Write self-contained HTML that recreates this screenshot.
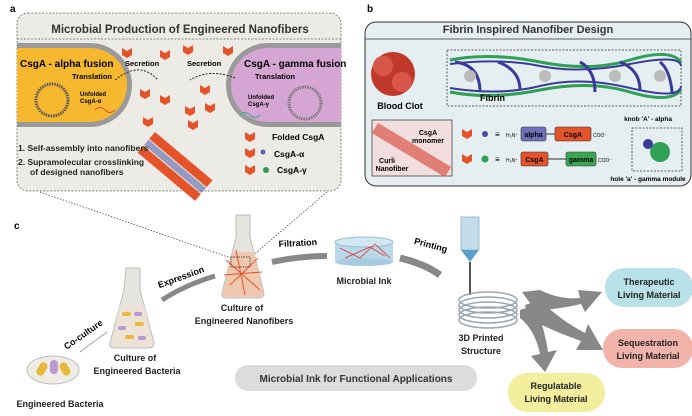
<!DOCTYPE html>
<html><head><meta charset="utf-8"><style>
html,body{margin:0;padding:0;background:#fff;width:692px;height:416px;overflow:hidden}
svg{display:block;font-family:"Liberation Sans",Arial,sans-serif}
.b{font-weight:bold}
</style></head><body>
<svg width="692" height="416" viewBox="0 0 692 416" xmlns="http://www.w3.org/2000/svg">
<defs>
<g id="chev"><path d="M0,0 L5,3 L10,0 L10,7 L5,10 L0,7 Z" fill="#e5532b"/></g>
</defs>
<!-- Panel a -->
<text x="10" y="12" class="b" font-size="10">a</text>
<rect x="17" y="13" width="324" height="178" rx="11" fill="#edebe6" stroke="#666" stroke-dasharray="2,1.5" stroke-width="0.8"/>
<text x="180" y="33" text-anchor="middle" class="b" font-size="11.5" fill="#333">Microbial Production of Engineered Nanofibers</text>
<line x1="17" y1="39" x2="341" y2="39" stroke="#666" stroke-dasharray="2,1.5" stroke-width="0.8"/>
<path d="M17,43 H90 A42,42 0 0 1 90,127 H17 Z" fill="#9a9a9a"/>
<path d="M17,48 H90 A37,37 0 0 1 90,122 H17 Z" fill="#f5b82e"/>
<path d="M341,43 H268 A42,42 0 0 0 268,127 H341 Z" fill="#9a9a9a"/>
<path d="M341,48 H268 A37,37 0 0 0 268,122 H341 Z" fill="#d5a6d3"/>
<text x="20" y="67" class="b" font-size="10">CsgA - alpha fusion</text>
<text x="244" y="67" class="b" font-size="10">CsgA - gamma fusion</text>
<circle cx="52" cy="100" r="16" fill="none" stroke="#555" stroke-width="3" stroke-dasharray="1.5,1"/>
<circle cx="305" cy="103" r="16" fill="none" stroke="#777" stroke-width="3" stroke-dasharray="1.5,1"/>
<text x="72" y="79" class="b" font-size="7.5">Translation</text>
<text x="80" y="96" class="b" font-size="6">Unfolded</text><text x="80" y="103" class="b" font-size="6">CsgA-α</text>
<text x="255" y="79" class="b" font-size="7.5">Translation</text>
<text x="248" y="99" class="b" font-size="6">Unfolded</text><text x="248" y="106" class="b" font-size="6">CsgA-γ</text>
<text x="125" y="66" class="b" font-size="7.5">Secretion</text>
<text x="187" y="66" class="b" font-size="7.5">Secretion</text>
<path d="M115,80 Q140,60 158,80" fill="none" stroke="#222" stroke-dasharray="2,1.5"/>
<path d="M235,78 Q210,68 190,80" fill="none" stroke="#222" stroke-dasharray="2,1.5"/>
<path d="M95,110 q5,-5 10,0 t10,0" stroke="#e5532b" fill="none"/>
<path d="M240,115 q5,-5 10,0 t10,0" stroke="#3a9" fill="none"/>
<g>
<use href="#chev" x="122" y="48"/><use href="#chev" x="160" y="50"/><use href="#chev" x="183" y="45"/><use href="#chev" x="223" y="46"/>
<use href="#chev" x="140" y="89"/><use href="#chev" x="160" y="95"/><use href="#chev" x="200" y="85"/><use href="#chev" x="185" y="106"/>
<use href="#chev" x="143" y="117"/><use href="#chev" x="205" y="103"/><use href="#chev" x="188" y="120"/>
</g>
<g transform="translate(155,132) rotate(40)">
<rect x="0" y="0" width="75" height="9" fill="#e5532b"/>
<rect x="0" y="18" width="75" height="9" fill="#e5532b"/>
<rect x="0" y="10" width="75" height="7" fill="#5a64a8" opacity="0.6"/>
</g>
<text x="18" y="151" class="b" font-size="8.5" fill="#222">1. Self-assembly into nanofibers</text>
<text x="18" y="165" class="b" font-size="8.5" fill="#222">2. Supramolecular crosslinking</text>
<text x="30" y="175" class="b" font-size="8.5" fill="#222">of designed nanofibers</text>
<use href="#chev" x="245" y="132"/><text x="272" y="140" class="b" font-size="8.5">Folded CsgA</text>
<use href="#chev" x="245" y="148"/><circle cx="263" cy="152" r="2.5" fill="#5a64a8"/><text x="274" y="157" class="b" font-size="8.5">CsgA-α</text>
<use href="#chev" x="245" y="165"/><circle cx="266" cy="170" r="3" fill="#2f9a55"/><text x="277" y="173" class="b" font-size="8.5">CsgA-γ</text>

<!-- Panel b -->
<text x="367" y="12" class="b" font-size="10">b</text>
<rect x="365" y="22" width="326" height="164" rx="11" fill="#e5eef0" stroke="#333" stroke-width="1"/>
<text x="528" y="33" text-anchor="middle" class="b" font-size="11" fill="#333">Fibrin Inspired Nanofiber Design</text>
<line x1="365" y1="39" x2="691" y2="39" stroke="#333" stroke-width="0.8"/>
<circle cx="393" cy="74" r="22" fill="#c0392b"/><circle cx="383" cy="66" r="10" fill="#d9574a"/><circle cx="402" cy="82" r="10" fill="#d9574a"/>
<text x="400" y="109" text-anchor="middle" class="b" font-size="9">Blood Clot</text>
<rect x="447" y="50" width="234" height="56" fill="none" stroke="#333" stroke-dasharray="2,1.5" stroke-width="0.8"/>
<path d="M450,60 Q490,52 540,62 T630,60 T681,62" stroke="#2fa055" stroke-width="3" fill="none"/>
<path d="M450,92 Q490,100 540,90 T630,92 T681,90" stroke="#2fa055" stroke-width="3" fill="none"/>
<path d="M450,64 Q500,58 540,66 T630,64 T681,66 M450,88 Q500,96 540,86 T630,88 T681,86" stroke="#3a3a9a" stroke-width="2" fill="none"/>
<path d="M455,62 Q480,65 480,92 M498,62 Q520,70 520,90 M580,62 Q595,70 595,92 M620,62 Q640,70 640,90 M660,62 Q670,70 672,92" stroke="#3a3a9a" stroke-width="3" fill="none"/>
<g fill="#bbb"><circle cx="470" cy="76" r="6"/><circle cx="545" cy="76" r="6"/><circle cx="615" cy="76" r="6"/><circle cx="660" cy="76" r="6"/></g>
<text x="480" y="101" class="b" font-size="9">Fibrin</text>
<rect x="372" y="120" width="80" height="56" fill="#f2dede" stroke="#666"/>
<path d="M375,128 L448,172" stroke="#d9574a" stroke-width="12" opacity="0.7"/>
<text x="428" y="135" text-anchor="middle" class="b" font-size="7">CsgA</text><text x="428" y="143" text-anchor="middle" class="b" font-size="7">monomer</text>
<text x="387" y="163" text-anchor="middle" class="b" font-size="7">Curli</text><text x="392" y="171" text-anchor="middle" class="b" font-size="7">Nanofiber</text>
<use href="#chev" x="462" y="129"/><circle cx="485" cy="134" r="3" fill="#4a4a9a"/>
<text x="495" y="137" font-size="8">≡</text><text x="506" y="137" font-size="5">H₃N⁺</text>
<rect x="521" y="127" width="25" height="14" rx="2" fill="#7070b8" stroke="#333" stroke-width="0.6"/><text x="533.5" y="137" text-anchor="middle" class="b" font-size="7">alpha</text>
<line x1="546" y1="134" x2="555" y2="134" stroke="#333"/>
<rect x="555" y="127" width="36" height="14" rx="2" fill="#e5532b" stroke="#333" stroke-width="0.6"/><text x="573" y="137" text-anchor="middle" class="b" font-size="7">CsgA</text>
<text x="593" y="137" font-size="5">COO⁻</text>
<use href="#chev" x="462" y="154"/><circle cx="485" cy="159" r="3.5" fill="#2fa055"/>
<text x="495" y="162" font-size="8">≡</text><text x="506" y="162" font-size="5">H₃N⁺</text>
<rect x="521" y="152" width="27" height="14" rx="2" fill="#e5532b" stroke="#333" stroke-width="0.6"/><text x="534.5" y="162" text-anchor="middle" class="b" font-size="7">CsgA</text>
<line x1="548" y1="159" x2="566" y2="159" stroke="#333"/>
<rect x="566" y="152" width="30" height="14" rx="2" fill="#3aa655" stroke="#333" stroke-width="0.6"/><text x="581" y="162" text-anchor="middle" class="b" font-size="7">gamma</text>
<text x="598" y="162" font-size="5">COO⁻</text>
<text x="648" y="121" text-anchor="middle" class="b" font-size="6.5">knob 'A' - alpha</text>
<rect x="632" y="128" width="50" height="43" fill="none" stroke="#333" stroke-dasharray="2,1.5" stroke-width="0.8"/>
<circle cx="660" cy="152" r="10" fill="#2fa055"/><circle cx="648" cy="144" r="5" fill="#3a3a9a"/>
<text x="648" y="181" text-anchor="middle" class="b" font-size="6.5">hole 'a' - gamma module</text>

<!-- connectors -->
<line x1="40" y1="192" x2="231" y2="258" stroke="#333" stroke-dasharray="1.5,1.5" stroke-width="0.7"/>
<line x1="327" y1="192" x2="250" y2="258" stroke="#333" stroke-dasharray="1.5,1.5" stroke-width="0.7"/>

<!-- Panel c -->
<text x="14" y="229" class="b" font-size="10">c</text>
<ellipse cx="53" cy="370" rx="26" ry="14" fill="#eeece4" stroke="#bbb"/>
<rect x="38" y="362" width="8" height="14" rx="4" fill="#e7b83a" transform="rotate(30 42 369)"/><rect x="50" y="360" width="8" height="14" rx="4" fill="#b99ad0"/><rect x="61" y="362" width="8" height="14" rx="4" fill="#e7b83a" transform="rotate(-30 65 369)"/>
<text x="60" y="407" text-anchor="middle" class="b" font-size="9" fill="#222">Engineered Bacteria</text>
<line x1="80" y1="352" x2="107" y2="332" stroke="#999" stroke-width="0.8"/>
<text x="85" y="337" text-anchor="middle" class="b" font-size="9" transform="rotate(-35 85 337)">Co-culture</text>
<path d="M126,268 H140 V290 L154,343 Q154,348 148,348 H115 Q109,348 110,343 L124,290 Z" fill="#e6e4de" stroke="#bbb"/>
<path d="M120,305 H144 L153,343 Q153,347 148,347 H115 Q110,347 111,343 Z" fill="#ece3d6"/>
<g fill="#e7b83a"><rect x="122" y="312" width="9" height="4" rx="2"/><rect x="135" y="322" width="9" height="4" rx="2"/><rect x="125" y="335" width="9" height="4" rx="2"/></g>
<g fill="#b99ad0"><rect x="134" y="312" width="8" height="4" rx="2"/><rect x="118" y="326" width="8" height="4" rx="2"/><rect x="138" y="336" width="8" height="4" rx="2"/></g>
<text x="135" y="361" text-anchor="middle" class="b" font-size="9" fill="#222">Culture of</text>
<text x="137" y="374" text-anchor="middle" class="b" font-size="9" fill="#222">Engineered Bacteria</text>
<path d="M162,300 Q185,285 215,276" stroke="#888" stroke-width="5" fill="none"/>
<text x="182" y="280" text-anchor="middle" class="b" font-size="9" transform="rotate(-20 182 280)">Expression</text>
<path d="M236,215 H250 V237 L264,293 Q264,298 258,298 H227 Q221,298 222,293 L236,237 Z" fill="#e6e4de" stroke="#bbb"/>
<path d="M232,252 H254 L263,293 Q263,297 258,297 H227 Q222,297 223,293 Z" fill="#f0c8b0"/>
<path d="M226,260 L260,290 M230,285 L258,258 M236,250 L245,295 M224,275 L262,272" stroke="#e5532b" stroke-width="1" fill="none"/>
<rect x="231" y="257" width="19" height="10" fill="none" stroke="#222" stroke-dasharray="1.5,1" stroke-width="0.7"/>
<text x="242" y="311" text-anchor="middle" class="b" font-size="9" fill="#222">Culture of</text>
<text x="244" y="324" text-anchor="middle" class="b" font-size="9" fill="#222">Engineered Nanofibers</text>
<path d="M272,262 Q300,256 327,256" stroke="#888" stroke-width="6" fill="none"/>
<text x="298" y="246" text-anchor="middle" class="b" font-size="9" transform="rotate(-3 298 246)">Filtration</text>
<rect x="335" y="242" width="58" height="20" fill="#b9d8ea"/>
<ellipse cx="364" cy="262" rx="29" ry="4" fill="#a9cbe0"/>
<ellipse cx="364" cy="242" rx="29" ry="5" fill="#d3e7f2" stroke="#9bbdd2"/>
<path d="M340,248 L360,258 L375,244 L390,258 M345,258 L370,247 L385,256" stroke="#d33" stroke-width="0.8" fill="none"/>
<text x="364" y="284" text-anchor="middle" class="b" font-size="9" fill="#222">Microbial Ink</text>
<path d="M400,258 Q425,264 440,275" stroke="#888" stroke-width="7" fill="none"/>
<text x="430" y="248" text-anchor="middle" class="b" font-size="9" transform="rotate(15 430 248)">Printing</text>
<rect x="461" y="217" width="18" height="33" fill="#c2dcea" stroke="#9bbdd2"/>
<path d="M461,250 L470,262 L479,250 Z" fill="#5aa0c8"/>
<line x1="470" y1="262" x2="470" y2="295" stroke="#555" stroke-width="2"/>
<g fill="none" stroke="#9aa6b0" stroke-width="1.5">
<ellipse cx="488" cy="300" rx="29" ry="8"/><ellipse cx="488" cy="305" rx="29" ry="8"/><ellipse cx="488" cy="310" rx="29" ry="8"/><ellipse cx="488" cy="315" rx="29" ry="8"/><ellipse cx="488" cy="320" rx="29" ry="8"/></g>
<text x="481" y="341" text-anchor="middle" class="b" font-size="9" fill="#222">3D Printed</text>
<text x="481" y="354" text-anchor="middle" class="b" font-size="9" fill="#222">Structure</text>
<g fill="#888">
<path d="M522,292 L540,290 Q560,300 580,298 L578,290 L602,292 L585,312 L581,304 Q555,310 535,310 Z"/>
<path d="M525,305 L540,300 Q560,320 585,333 L588,324 L603,350 L576,350 L581,341 Q550,330 528,318 Z"/>
<path d="M520,310 L535,305 Q545,330 548,352 L557,350 L545,372 L531,356 L540,354 Q535,330 520,318 Z"/>
</g>
<rect x="605" y="268" width="88" height="39" rx="19" fill="#b9e1e8"/>
<text x="649" y="285" text-anchor="middle" class="b" font-size="9" fill="#222">Therapeutic</text>
<text x="649" y="298" text-anchor="middle" class="b" font-size="9" fill="#222">Living Material</text>
<rect x="603" y="329" width="90" height="39" rx="19" fill="#f1b3aa"/>
<text x="648" y="346" text-anchor="middle" class="b" font-size="9" fill="#222">Sequestration</text>
<text x="648" y="359" text-anchor="middle" class="b" font-size="9" fill="#222">Living Material</text>
<rect x="508" y="373" width="97" height="39" rx="19" fill="#f2ee9e"/>
<text x="556" y="389" text-anchor="middle" class="b" font-size="9" fill="#222">Regulatable</text>
<text x="556" y="402" text-anchor="middle" class="b" font-size="9" fill="#222">Living Material</text>
<rect x="235" y="365" width="242" height="26" rx="13" fill="#dcdcdc"/>
<text x="356" y="382" text-anchor="middle" class="b" font-size="10" fill="#333">Microbial Ink for Functional Applications</text>
</svg>
</body></html>
